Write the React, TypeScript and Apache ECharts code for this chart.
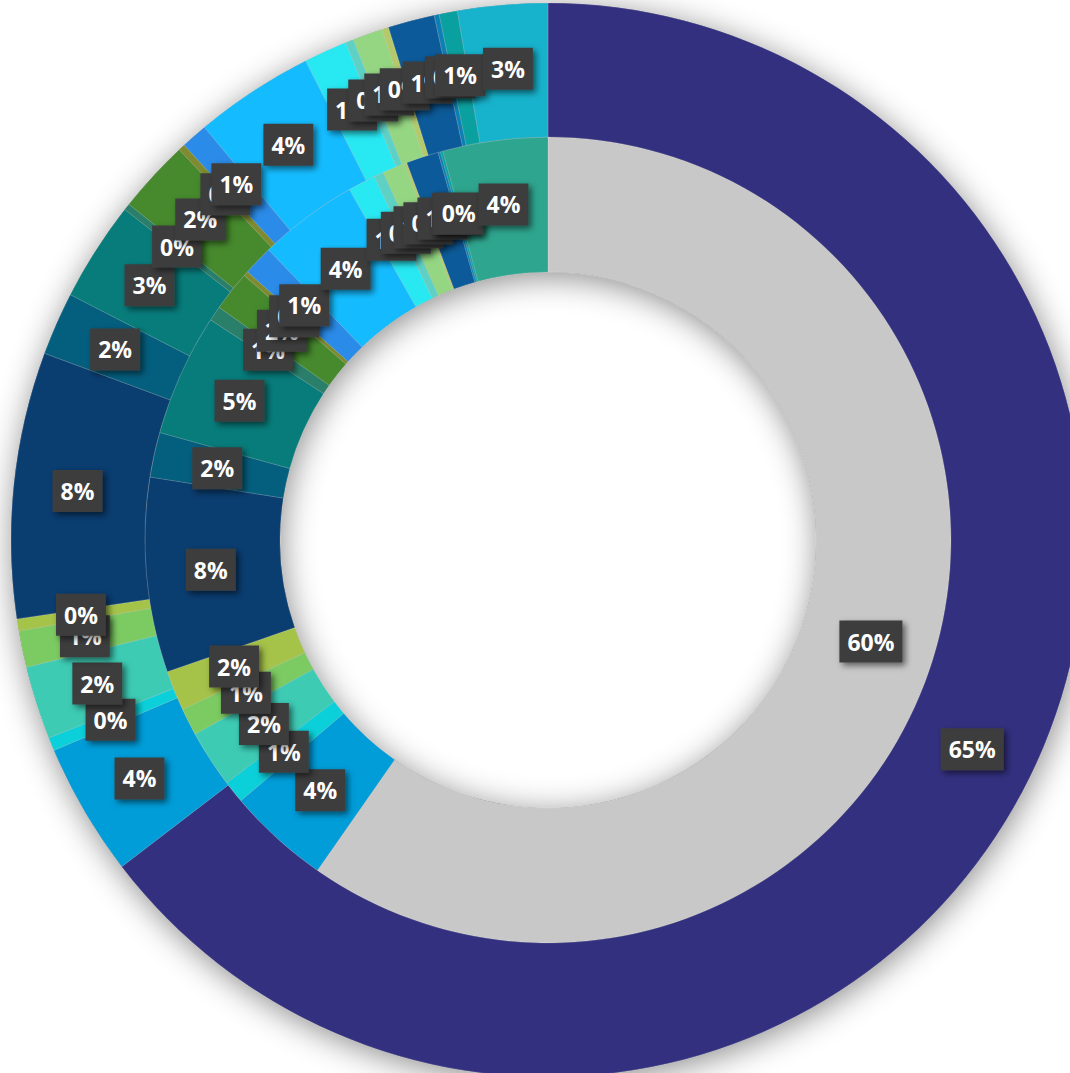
import React, { useEffect, useRef } from "react";
import * as echarts from "echarts";

const categories = [
  "C01", "C02", "C03", "C04", "C05", "C06", "C07", "C08", "C09", "C10", "C11",
  "C12", "C13", "C14", "C15", "C16", "C17", "C18", "C19", "C20", "C21", "C22",
];

const outerValues = [
  64.6, 4.0, 0.4, 2.2, 1.1, 0.36, 8.0, 1.9, 3.0, 0.2, 2.2,
  0.2, 0.8, 3.6, 1.3, 0.25, 0.9, 0.2, 1.4, 0.15, 0.55, 2.7,
];

const innerValues = [
  59.7, 4.1, 0.9, 2.3, 1.1, 1.6, 7.8, 1.8, 4.9, 0.6, 1.6,
  0.2, 1.2, 4.0, 1.1, 0.4, 0.9, 0.1, 1.3, 0.1, 0.1, 4.2,
];

const sharedColors = [
  "#009DD9", "#0BD0D9", "#3DCBB4", "#7CCA62", "#A5C249", "#0A3D70", "#045E7E",
  "#077C7B", "#2A7F6A", "#468A2D", "#7E8B30", "#2B8BE8", "#14BCFF", "#28E8F2",
  "#5ED1C4", "#94D682", "#B4CA6A", "#0C5A99", "#0C7FB4", "#0BA0A0",
];
const outerColors = ["#33307F", ...sharedColors, "#17B2CC"];
const innerColors = ["#C8C8C8", ...sharedColors, "#2EA58E"];

export default function App() {
  const ref = useRef<HTMLDivElement>(null);
  useEffect(() => {
    if (!ref.current) return;
    const chart = echarts.init(ref.current, undefined, { renderer: "svg" });
    const center = [548, 540];
    const labelStyle = {
      show: true,
      position: "inside",
      formatter: (p: any) => Math.round(p.percent) + "%",
      color: "#FFFFFF",
      fontFamily: "Open Sans",
      fontWeight: "bold",
      fontSize: 23,
      lineHeight: 24,
      backgroundColor: "#3D3D3D",
      padding: [9, 8, 9, 8],
      shadowBlur: 6,
      shadowColor: "rgba(0,0,0,0.55)",
      shadowOffsetX: 3,
      shadowOffsetY: 3,
    };
    const mk = (vals: number[], cols: string[]) =>
      categories.map((c, i) => ({
        name: c,
        value: vals[i],
        itemStyle: { color: cols[i] },
      }));
    chart.setOption({
      animation: false,
      backgroundColor: "#FFFFFF",
      series: [
        {
          type: "pie",
          silent: true,
          center,
          radius: [268, 537],
          label: { show: false },
          labelLine: { show: false },
          itemStyle: {
            color: "#777777",
            shadowBlur: 32,
            shadowColor: "rgba(0,0,0,0.45)",
            shadowOffsetX: 2,
            shadowOffsetY: 5,
          },
          data: [{ name: "shadow", value: 1 }],
          z: 1,
        },
        {
          type: "pie",
          name: "inner",
          center,
          radius: [268, 403],
          startAngle: 90,
          clockwise: true,
          avoidLabelOverlap: false,
          label: labelStyle,
          labelLayout: { hideOverlap: false },
          labelLine: { show: false },
          itemStyle: { borderColor: "rgba(255,255,255,0.25)", borderWidth: 0.6 },
          data: mk(innerValues, innerColors),
          z: 2,
        },
        {
          type: "pie",
          name: "outer",
          center,
          radius: [403, 537],
          startAngle: 90,
          clockwise: true,
          avoidLabelOverlap: false,
          label: labelStyle,
          labelLayout: { hideOverlap: false },
          labelLine: { show: false },
          itemStyle: { borderColor: "rgba(255,255,255,0.25)", borderWidth: 0.6 },
          data: mk(outerValues, outerColors),
          z: 3,
        },
      ],
    });
    return () => chart.dispose();
  }, []);
  return (
    <div
      ref={ref}
      style={{ position: "fixed", left: 0, top: 0, width: 1070, height: 1073 }}
    />
  );
}
